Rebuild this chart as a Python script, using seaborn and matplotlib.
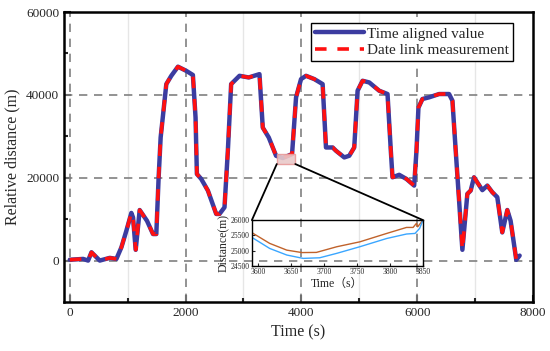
import numpy as np
import pandas as pd
import matplotlib
matplotlib.use('Agg')
import matplotlib.pyplot as plt
import seaborn as sns
from matplotlib.patches import Rectangle, ConnectionPatch

sns.set_style('ticks')
plt.rcParams['font.family'] = ['Liberation Serif', 'Noto Sans CJK SC']
plt.rcParams['mathtext.fontset'] = 'stix'

# main series
time_s = [0, 230, 316, 374, 517, 690, 805, 891, 977, 1063, 1092, 1138, 1207,
          1333, 1437, 1494, 1534, 1569, 1667, 1753, 1868, 2011, 2126, 2172,
          2195, 2270, 2385, 2529, 2586, 2672, 2730, 2787, 2931, 3091, 3276,
          3333, 3437, 3563, 3678, 3839, 3908, 3994, 4080, 4224, 4367, 4425,
          4540, 4598, 4741, 4827, 4913, 4971, 5057, 5172, 5344, 5488, 5545,
          5574, 5689, 5815, 5948, 5988, 6022, 6091, 6206, 6379, 6551, 6609,
          6666, 6724, 6781, 6867, 6925, 6982, 7126, 7212, 7298, 7384, 7470,
          7557, 7614, 7712, 7770]
aligned = [200, 400, 0, 2000, 0, 650, 400, 3200, 7200, 11500, 10400, 2600,
           12200, 9600, 6400, 6400, 20000, 29700, 42600, 44600, 46800, 45800,
           44800, 34500, 20900, 19700, 16900, 11250, 11250, 12850, 26500,
           42600, 44600, 44200, 45000, 32100, 29700, 25300, 24750, 25700,
           39400, 43800, 44600, 43800, 42600, 27300, 27300, 26500, 24900,
           25300, 27300, 41000, 43400, 43000, 41000, 40200, 26500, 20100,
           20700, 19700, 18100, 26500, 36900, 39000, 39400, 40200, 40200,
           38600, 26500, 14500, 2600, 16100, 16900, 20100, 17000, 18100,
           16500, 15300, 6800, 12200, 9600, 170, 1200]
measured = list(aligned)

# zoomed window
zoom_t = [3590, 3617, 3643, 3666, 3688, 3719, 3754, 3795, 3825, 3835, 3840,
          3842, 3850]
zoom_brown = [25590, 25240, 25020, 24940, 24945, 25130, 25290, 25565, 25760,
              25760, 25890, 25780, 26000]
zoom_t2 = [3590, 3617, 3643, 3668, 3693, 3719, 3754, 3795, 3825, 3838, 3845,
           3850]
zoom_blue = [25435, 25075, 24860, 24750, 24770, 24915, 25130, 25400, 25545,
             25565, 25730, 26000]

df = pd.DataFrame({'t': time_s, 'a': aligned, 'm': measured})

fig = plt.figure(figsize=(5.5, 3.51), dpi=100)
ax = fig.add_axes([0.1164, 0.1396, 0.8526, 0.8262])

for v in [1000, 3000, 5000, 7000]:
    ax.axvline(v, color='#e6e6e6', lw=1, zorder=0)
for v in [0, 2000, 4000, 6000]:
    ax.axvline(v, color='#808080', lw=1.2, ls=(0, (5, 4)), zorder=1)
for v in [0, 20000, 40000]:
    ax.axhline(v, color='#808080', lw=1.2, ls=(0, (5, 4)), zorder=1)

sns.lineplot(data=df, x='t', y='a', ax=ax, color='#3c3ca0', lw=3.2,
             label='Time aligned value', zorder=3)
sns.lineplot(data=df, x='t', y='m', ax=ax, color='#ff1010', lw=2.6,
             ls=(0, (3.2, 3.0)), label='Date link measurement', zorder=4)

ax.set_xlim(-100, 8000)
ax.set_ylim(-10000, 60000)
ax.set_xticks([0, 2000, 4000, 6000, 8000])
ax.set_xticks([1000, 3000, 5000, 7000], minor=True)
ax.set_yticks([0, 20000, 40000, 60000])
ax.set_yticks([10000, 30000, 50000], minor=True)
ax.tick_params(which='both', direction='in', width=1.5, labelsize=9.5)
ax.tick_params(which='major', length=5)
ax.tick_params(which='minor', length=3)
for s in ax.spines.values():
    s.set_linewidth(1.8)
    s.set_color('black')
ax.set_xlabel('Time (s)', fontsize=11.5)
ax.set_ylabel('Relative distance (m)', fontsize=11.5)

leg = ax.legend(loc='upper right', bbox_to_anchor=(0.957, 0.962),
                fontsize=11, handlelength=3.2, fancybox=False,
                framealpha=1, edgecolor='black', borderpad=0.25,
                labelspacing=0.2, handletextpad=0.2, borderaxespad=0)
leg.get_frame().set_linewidth(1.0)

# highlighted region
ax.add_patch(Rectangle((3575, 23300), 320, 2500, facecolor='#e9c9c9',
                       edgecolor='#e89a9a', lw=1, zorder=5, alpha=0.9))

ins = fig.add_axes([0.458, 0.242, 0.311, 0.131])
ins.patch.set_alpha(0)
sns.lineplot(x=zoom_t, y=zoom_brown, ax=ins, color='#c0622b', lw=1)
sns.lineplot(x=zoom_t2, y=zoom_blue, ax=ins, color='#3aa6ff', lw=1)
ins.set_xlim(3590, 3850)
ins.set_ylim(24500, 26000)
ins.set_xticks([3600, 3650, 3700, 3750, 3800, 3850])
ins.set_yticks([24500, 25000, 25500, 26000])
ins.tick_params(direction='in', length=2, width=0.8, labelsize=5.5, pad=1.5)
for s in ins.spines.values():
    s.set_linewidth(1.0)
    s.set_color('black')
ins.set_xlabel('Time（s）', fontsize=8.5, labelpad=1)
ins.set_ylabel('Distance(m)', fontsize=8.5, labelpad=1)

for xa, xb in [(3575, 0), (3895, 1)]:
    cp = ConnectionPatch(xyA=(xa, 23300), coordsA=ax.transData,
                         xyB=(xb, 1), coordsB=ins.transAxes,
                         color='black', lw=1.3, zorder=6)
    fig.add_artist(cp)

fig.savefig('out.png', dpi=100)
